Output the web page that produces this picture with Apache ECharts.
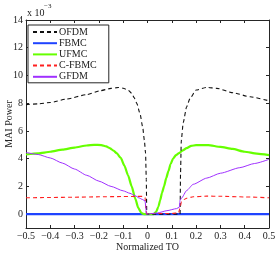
<!DOCTYPE html>
<html>
<head>
<meta charset="utf-8">
<script src="https://cdn.jsdelivr.net/npm/echarts@6/dist/echarts.min.js"></script>
<style>
html,body{margin:0;padding:0;background:#fff;}
#c{width:280px;height:253px;}
</style>
</head>
<body>
<div id="c"></div>
<script>
// ---- data (x = normalized TO, y = MAI power in units of 1e-3) ----
const seriesNames = ['OFDM', 'FBMC', 'UFMC', 'C-FBMC', 'GFDM'];
const xTicks = [-0.5, -0.4, -0.3, -0.2, -0.1, 0, 0.1, 0.2, 0.3, 0.4, 0.5];
const yTicks = [0, 2, 4, 6, 8, 10, 12, 14];

const ofdm = [[-0.5,7.9],[-0.45,7.95],[-0.4,8.05],[-0.333,8.3],[-0.25,8.62],[-0.195,8.9],[-0.15,9.07],[-0.12,9.13],[-0.1,9.08],[-0.08,8.95],[-0.065,8.71],[-0.055,8.4],[-0.044,7.99],[-0.031,7.26],[-0.02,6.3],[-0.013,5.34],[-0.008,4.4],[-0.005,2.5],[-0.003,0],[0.134,0],[0.136,3.0],[0.139,5.3],[0.147,6.6],[0.161,7.74],[0.175,8.35],[0.2,8.95],[0.244,9.14],[0.285,9.07],[0.353,8.75],[0.422,8.46],[0.5,8.17]];
const fbmc = [[-0.5,0],[-0.25,0],[0,0],[0.25,0],[0.5,0]];
const ufmc = [[-0.5,4.3],[-0.45,4.38],[-0.4,4.5],[-0.35,4.65],[-0.3,4.8],[-0.25,4.95],[-0.22,5.0],[-0.19,4.98],[-0.17,4.88],[-0.154,4.74],[-0.14,4.58],[-0.127,4.4],[-0.11,4.05],[-0.095,3.5],[-0.08,2.8],[-0.065,2.0],[-0.05,1.1],[-0.038,0.45],[-0.025,0.08],[-0.015,0],[0.025,0],[0.035,0.15],[0.045,0.55],[0.052,1.0],[0.06,1.55],[0.068,2.0],[0.077,2.6],[0.086,3.1],[0.095,3.6],[0.105,4.0],[0.117,4.25],[0.13,4.4],[0.145,4.6],[0.161,4.76],[0.18,4.92],[0.2,4.98],[0.25,4.98],[0.3,4.85],[0.35,4.7],[0.4,4.5],[0.45,4.37],[0.5,4.26]];
const cfbmc = [[-0.5,1.18],[-0.4,1.2],[-0.3,1.22],[-0.2,1.25],[-0.1,1.27],[-0.05,1.28],[-0.02,1.28],[-0.01,1.2],[-0.007,0.4],[-0.004,0.05],[0.1,0.05],[0.128,0.1],[0.133,0.4],[0.14,0.9],[0.15,1.05],[0.161,1.15],[0.188,1.25],[0.244,1.3],[0.3,1.29],[0.4,1.24],[0.5,1.18]];
const gfdm = [[-0.5,4.45],[-0.45,4.3],[-0.4,4.05],[-0.35,3.68],[-0.3,3.25],[-0.25,2.8],[-0.2,2.38],[-0.15,2.0],[-0.1,1.68],[-0.072,1.5],[-0.05,1.32],[-0.035,1.17],[-0.02,1.05],[-0.01,0.95],[-0.007,0.5],[-0.005,0],[0.04,0.08],[0.08,0.25],[0.12,0.4],[0.131,0.5],[0.134,1.0],[0.14,1.15],[0.161,1.7],[0.188,2.15],[0.244,2.6],[0.3,2.95],[0.38,3.35],[0.44,3.65],[0.5,3.95]];

const FONT = 'Liberation Serif';
const axisCol = '#262626';
const fmt = v => (v < 0 ? '\u2212' + Math.abs(v) : String(v));

const chart = echarts.init(document.getElementById('c'), null, {renderer: 'canvas'});

function frameAxis(extra) {
  return Object.assign({
    axisLine: {show: true, onZero: false, lineStyle: {color: axisCol, width: 1}},
    splitLine: {show: false}
  }, extra);
}

chart.setOption({
  backgroundColor: '#fff',
  animation: false,
  grid: {left: 26, right: 11, top: 20, bottom: 25, containLabel: false, outerBoundsMode: 'none'},
  legend: {
    orient: 'vertical',
    left: 28, top: 25,
    padding: [2, 12, 1, 4],
    itemWidth: 24, itemHeight: 11, itemGap: 1.2,
    borderColor: axisCol, borderWidth: 1, backgroundColor: '#fff',
    itemStyle: {color: 'rgba(0,0,0,0)', borderWidth: 0},
    textStyle: {fontFamily: FONT, fontSize: 10, color: '#222', padding: [0, 0, 0, -3]},
    data: seriesNames
  },
  xAxis: [
    frameAxis({
      type: 'value', min: -0.5, max: 0.5, position: 'bottom',
      name: 'Normalized TO', nameLocation: 'middle', nameGap: 14.5, nameMoveOverlap: false,
      nameTextStyle: {fontFamily: FONT, fontSize: 10, color: '#222'},
      axisTick: {show: true, inside: true, length: 3, customValues: xTicks, lineStyle: {color: axisCol}},
      axisLabel: {show: true, customValues: xTicks, formatter: fmt, margin: 3, fontFamily: FONT, fontSize: 10, color: '#222', hideOverlap: false}
    }),
    frameAxis({
      type: 'value', min: -0.5, max: 0.5, position: 'top',
      axisTick: {show: true, inside: true, length: 3, customValues: xTicks, lineStyle: {color: axisCol}},
      axisLabel: {show: false}
    })
  ],
  yAxis: [
    frameAxis({
      type: 'value', min: -1, max: 14, position: 'left',
      name: 'MAI Power', nameLocation: 'middle', nameGap: 12, nameMoveOverlap: false,
      nameTextStyle: {fontFamily: FONT, fontSize: 10, color: '#222'},
      axisTick: {show: true, inside: true, length: 3, customValues: yTicks, lineStyle: {color: axisCol}},
      axisLabel: {show: true, customValues: yTicks, formatter: fmt, margin: 3, fontFamily: FONT, fontSize: 10, color: '#222', hideOverlap: false}
    }),
    frameAxis({
      type: 'value', min: -1, max: 14, position: 'right',
      axisTick: {show: true, inside: true, length: 3, customValues: yTicks, lineStyle: {color: axisCol}},
      axisLabel: {show: false}
    })
  ],
  graphic: [
    {type: 'text', left: 27, top: 8, style: {text: 'x 10', fontFamily: FONT, fontSize: 10, fill: '#222'}},
    {type: 'text', left: 44, top: 3, style: {text: '\u22123', fontFamily: FONT, fontSize: 7, fill: '#222'}}
  ],
  series: [
    {name: seriesNames[0], type: 'line', data: ofdm, symbol: 'none', smooth: 0.2, smoothMonotone: 'x',
     lineStyle: {color: '#111', width: 1.1, type: [4, 3]}, itemStyle: {color: '#111'}, z: 5},
    {name: seriesNames[1], type: 'line', data: fbmc, symbol: 'none',
     lineStyle: {color: '#1f43ff', width: 2.2}, itemStyle: {color: '#1f43ff'}, z: 3},
    {name: seriesNames[2], type: 'line', data: ufmc, symbol: 'none', smooth: 0.2, smoothMonotone: 'x',
     lineStyle: {color: '#66ff00', width: 2.2}, itemStyle: {color: '#66ff00'}, z: 4},
    {name: seriesNames[3], type: 'line', data: cfbmc, symbol: 'none', smooth: 0.2, smoothMonotone: 'x',
     lineStyle: {color: '#ff2020', width: 1.1, type: [4, 3]}, itemStyle: {color: '#ff2020'}, z: 5},
    {name: seriesNames[4], type: 'line', data: gfdm, symbol: 'none', smooth: 0.2, smoothMonotone: 'x',
     lineStyle: {color: '#a030ff', width: 1}, itemStyle: {color: '#a030ff'}, z: 6}
  ]
});
</script>
</body>
</html>
